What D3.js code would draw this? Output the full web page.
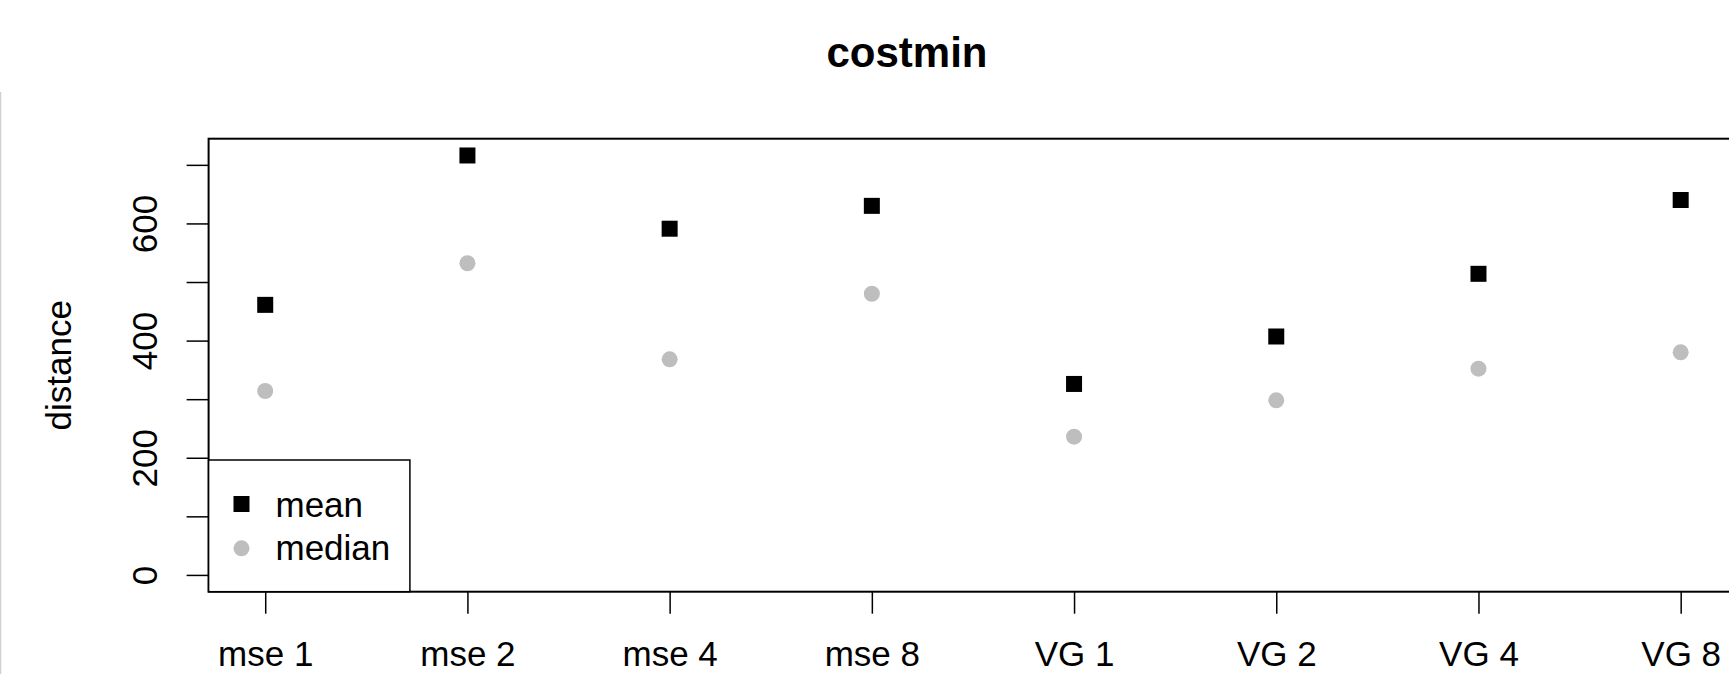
<!DOCTYPE html>
<html>
<head>
<meta charset="utf-8">
<script src="https://cdn.jsdelivr.net/npm/d3@7"></script>
<style>
  body { margin: 0; background: #fff; }
  svg { display: block; font-family: "Liberation Sans", Arial, Helvetica, sans-serif; }
</style>
</head>
<body>
<div id="chart"></div>
<script>
// data
var categories = ["mse 1", "mse 2", "mse 4", "mse 8", "VG 1", "VG 2", "VG 4", "VG 8"];
var meanValues = [461, 716, 591, 630, 326, 407, 514, 640];
var medianValues = [314, 532, 368, 480, 236, 298, 352, 380];
var yTicks = [0, 100, 200, 300, 400, 500, 600, 700];
var yLabels = [0, 200, 400, 600];

var width = 1729, height = 674;
var plot = {left: 208.6, top: 138.7, right: 1737.3, bottom: 591.7};

var svg = d3.select("#chart").append("svg")
  .attr("width", width)
  .attr("height", height);

// x like R: index 1..n with 4% padding
var n = categories.length;
var pad = (n - 1) * 0.04;
var x = d3.scaleLinear()
  .domain([1 - pad, n + pad])
  .range([plot.left, plot.right]);

var yMax = d3.max(meanValues.concat(medianValues));
var yPad = yMax * 0.04;
var y = d3.scaleLinear()
  .domain([0 - yPad, yMax + yPad])
  .range([plot.bottom, plot.top]);

// faint line on the left edge of the original image
svg.append("line")
  .attr("x1", 0.5).attr("x2", 0.5)
  .attr("y1", 92).attr("y2", height)
  .style("stroke", "#d0d0d0")
  .style("stroke-width", 1.5);

// title
svg.append("text")
  .attr("x", 907)
  .attr("y", 66.7)
  .attr("text-anchor", "middle")
  .style("font-size", "42px")
  .style("font-weight", "bold")
  .text("costmin");

// y label
svg.append("text")
  .attr("transform", "translate(71," + ((plot.top + plot.bottom) / 2) + ") rotate(-90)")
  .attr("text-anchor", "middle")
  .style("font-size", "35px")
  .text("distance");

// x axis
var xAxis = svg.append("g")
  .attr("transform", "translate(0," + plot.bottom + ")")
  .call(d3.axisBottom(x)
    .tickValues(d3.range(1, n + 1))
    .tickSize(22)
    .tickFormat(function (d) { return categories[d - 1]; }));
xAxis.select(".domain").remove();
xAxis.selectAll("line").style("stroke-width", 1.5);
xAxis.selectAll("text")
  .attr("y", 666 - plot.bottom)
  .attr("dy", null)
  .style("font-size", "35px")
  .style("fill", "#000");

// y axis
var yAxis = svg.append("g")
  .attr("transform", "translate(" + plot.left + ",0)")
  .call(d3.axisLeft(y)
    .tickValues(yTicks)
    .tickSize(22)
    .tickFormat(function (d) { return yLabels.indexOf(d) >= 0 ? d : ""; }));
yAxis.select(".domain").remove();
yAxis.selectAll("line").style("stroke-width", 1.5);
yAxis.selectAll("text")
  .attr("x", null)
  .attr("dy", null)
  .attr("text-anchor", "middle")
  .attr("transform", "translate(" + (157 - plot.left) + ",0) rotate(-90)")
  .style("font-size", "35px")
  .style("fill", "#000");

// plot box
svg.append("rect")
  .attr("x", plot.left)
  .attr("y", plot.top)
  .attr("width", plot.right - plot.left)
  .attr("height", plot.bottom - plot.top)
  .style("fill", "none")
  .style("stroke", "#000")
  .style("stroke-width", 2);

// medians
svg.append("g")
  .selectAll("circle")
  .data(medianValues)
  .enter()
  .append("circle")
    .attr("cx", function (d, i) { return x(i + 1); })
    .attr("cy", function (d) { return y(d); })
    .attr("r", 8)
    .style("fill", "#bebebe");

// means
svg.append("g")
  .selectAll("rect")
  .data(meanValues)
  .enter()
  .append("rect")
    .attr("x", function (d, i) { return x(i + 1) - 8; })
    .attr("y", function (d) { return y(d) - 8; })
    .attr("width", 16)
    .attr("height", 16)
    .style("fill", "#000");

// legend
var legend = svg.append("g");
legend.append("rect")
  .attr("x", plot.left)
  .attr("y", 460)
  .attr("width", 409.9 - plot.left)
  .attr("height", plot.bottom - 460)
  .style("fill", "#fff")
  .style("stroke", "#000")
  .style("stroke-width", 1.5);
legend.append("rect")
  .attr("x", 241.5 - 8).attr("y", 504 - 8)
  .attr("width", 16).attr("height", 16)
  .style("fill", "#000");
legend.append("circle")
  .attr("cx", 241.5).attr("cy", 548.3)
  .attr("r", 8)
  .style("fill", "#bebebe");
legend.append("text")
  .attr("x", 275.5).attr("y", 516.7)
  .style("font-size", "35px")
  .text("mean");
legend.append("text")
  .attr("x", 275.5).attr("y", 560)
  .style("font-size", "35px")
  .text("median");
</script>
</body>
</html>
